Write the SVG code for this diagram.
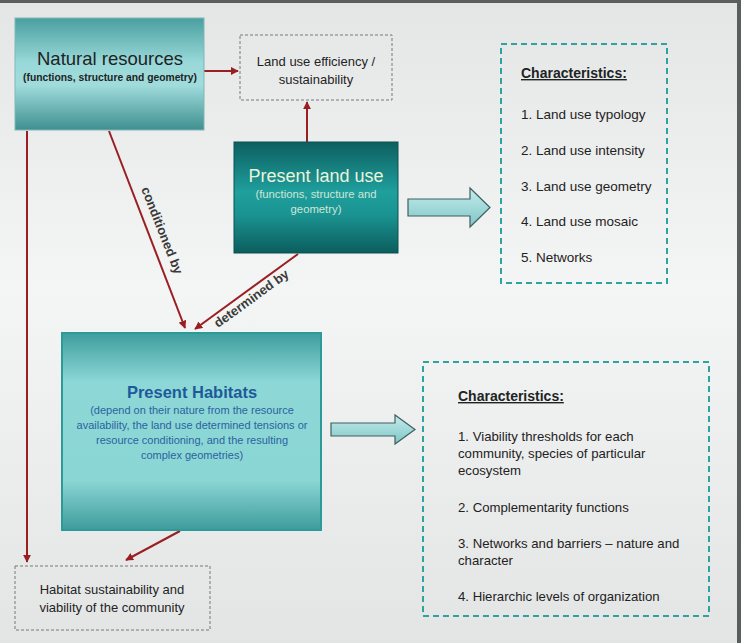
<svg xmlns="http://www.w3.org/2000/svg" width="741" height="643" viewBox="0 0 741 643">
<defs>
<style>
text{font-family:"Liberation Sans",Arial,sans-serif;}
.dk{fill:#1e2424;}
.conn{stroke:#9a1f22;stroke-width:2;fill:none;}
.lbl{font-size:13px;font-weight:bold;fill:#3a3a3a;}
.chr{font-size:13.5px;fill:#1e2222;}
.chr2{font-size:13.2px;fill:#1e2222;}
.dashT{fill:none;stroke:#2fa3a0;stroke-width:2;stroke-dasharray:6,4;}
.dashG{fill:none;stroke:#777;stroke-width:1;stroke-dasharray:3,2;}
.blk{fill:url(#gBlk);stroke:#3f5f5f;stroke-width:1.2;}
</style>
<linearGradient id="gBg" x1="0" y1="0" x2="0" y2="1">
<stop offset="0" stop-color="#e4e6e6"/>
<stop offset="0.45" stop-color="#f4f5f5"/>
<stop offset="1" stop-color="#e3e5e5"/>
</linearGradient>
<linearGradient id="gNR" x1="0" y1="0" x2="0" y2="1">
<stop offset="0" stop-color="#4a9fa0"/>
<stop offset="0.4" stop-color="#9ad9d9"/>
<stop offset="0.6" stop-color="#a0dcdc"/>
<stop offset="1" stop-color="#3f8f90"/>
</linearGradient>
<linearGradient id="gPLU" x1="0" y1="0" x2="0" y2="1">
<stop offset="0" stop-color="#0d5f60"/>
<stop offset="0.45" stop-color="#1f9f9d"/>
<stop offset="0.65" stop-color="#1a9492"/>
<stop offset="1" stop-color="#0c5d5d"/>
</linearGradient>
<linearGradient id="gPH" x1="0" y1="0" x2="0" y2="1">
<stop offset="0" stop-color="#3e9e9e"/>
<stop offset="0.25" stop-color="#8dd8d6"/>
<stop offset="0.75" stop-color="#8ad6d4"/>
<stop offset="1" stop-color="#3e9c9c"/>
</linearGradient>
<linearGradient id="gBlk" x1="0" y1="0" x2="0" y2="1">
<stop offset="0" stop-color="#c5ecec"/>
<stop offset="1" stop-color="#7fc6c6"/>
</linearGradient>
<marker id="ah" viewBox="0 0 10 10" refX="9" refY="5" markerWidth="4" markerHeight="4" orient="auto">
<path d="M0,0 L10,5 L0,10 z" fill="#9a1f22"/>
</marker>
</defs>

<rect x="0" y="0" width="741" height="643" fill="url(#gBg)"/>
<rect x="0" y="0" width="741" height="3" fill="#5a5e5e"/>
<rect x="737" y="0" width="4" height="643" fill="#5a5e5e"/>

<g id="connectors">
<line class="conn" x1="204" y1="71" x2="238" y2="71" marker-end="url(#ah)"/>
<line class="conn" x1="307" y1="142" x2="307" y2="102" marker-end="url(#ah)"/>
<line class="conn" x1="109" y1="131" x2="185" y2="328" marker-end="url(#ah)"/>
<line class="conn" x1="298" y1="254" x2="195" y2="329" marker-end="url(#ah)"/>
<line class="conn" x1="27" y1="131" x2="27" y2="562" marker-end="url(#ah)"/>
<line class="conn" x1="180" y1="531" x2="126" y2="560" marker-end="url(#ah)"/>
<text class="lbl" transform="translate(158,232) rotate(68.5)" text-anchor="middle">conditioned by</text>
<text class="lbl" transform="translate(254,302) rotate(-36)" text-anchor="middle">determined by</text>
<path class="blk" d="M408,199 H470 V188 L490,207.5 L470,227 V216 H408 Z"/>
<path class="blk" d="M331,423 H395 V415 L415,429.5 L395,444 V436 H331 Z"/>
</g>

<g id="natural-resources">
<rect x="15" y="18" width="189" height="112" fill="url(#gNR)" stroke="#7fb7b8" stroke-width="1"/>
<text x="110" y="65" text-anchor="middle" font-size="18.5" class="dk">Natural resources</text>
<text x="110" y="81" text-anchor="middle" font-size="10.3" font-weight="bold" class="dk">(functions, structure and geometry)</text>
</g>

<g id="land-use-efficiency">
<rect x="240" y="35" width="152" height="65" fill="#eef0f0" class="dashG"/>
<text x="316" y="66" text-anchor="middle" font-size="13" class="dk">Land use efficiency /</text>
<text x="316" y="84" text-anchor="middle" font-size="13" class="dk">sustainability</text>
</g>

<g id="present-land-use">
<rect x="234" y="142" width="164" height="111" fill="url(#gPLU)" stroke="#0c5050" stroke-width="1"/>
<text x="316" y="182" text-anchor="middle" font-size="18" fill="#eaf4da">Present land use</text>
<text x="316" y="198" text-anchor="middle" font-size="11.3" fill="#cfe6d6">(functions, structure and</text>
<text x="316" y="213" text-anchor="middle" font-size="11.3" fill="#cfe6d6">geometry)</text>
</g>

<g id="characteristics-land-use">
<rect x="501" y="44" width="166" height="239" class="dashT"/>
<text x="521" y="78" font-size="14" font-weight="bold" class="dk" text-decoration="underline">Characteristics:</text>
<text x="521" y="119" class="chr">1. Land use typology</text>
<text x="521" y="155" class="chr">2. Land use intensity</text>
<text x="521" y="191" class="chr">3. Land use geometry</text>
<text x="521" y="226" class="chr">4. Land use mosaic</text>
<text x="521" y="262" class="chr">5. Networks</text>
</g>

<g id="present-habitats">
<rect x="62" y="333" width="259" height="197" fill="url(#gPH)" stroke="#2b9a98" stroke-width="2"/>
<text x="192" y="398" text-anchor="middle" font-size="16.5" font-weight="bold" fill="#1e5a9a">Present Habitats</text>
<text x="192" y="414" text-anchor="middle" font-size="11" fill="#2b62a0">(depend on their nature from the resource</text>
<text x="192" y="429" text-anchor="middle" font-size="11" fill="#2b62a0">availability, the land use determined tensions or</text>
<text x="192" y="444" text-anchor="middle" font-size="11" fill="#2b62a0">resource conditioning, and the resulting</text>
<text x="192" y="459" text-anchor="middle" font-size="11" fill="#2b62a0">complex geometries)</text>
</g>

<g id="characteristics-habitats">
<rect x="423" y="362" width="286" height="254" class="dashT"/>
<text x="458" y="401" font-size="14" font-weight="bold" class="dk" text-decoration="underline">Characteristics:</text>
<text x="458" y="441" class="chr2">1. Viability thresholds for each</text>
<text x="458" y="458" class="chr2">community, species of particular</text>
<text x="458" y="475" class="chr2">ecosystem</text>
<text x="458" y="512" class="chr2">2. Complementarity functions</text>
<text x="458" y="548" class="chr2">3. Networks and barriers – nature and</text>
<text x="458" y="565" class="chr2">character</text>
<text x="458" y="601" class="chr2">4. Hierarchic levels of organization</text>
</g>

<g id="habitat-sustainability">
<rect x="15" y="566" width="195" height="64" fill="#eceeee" class="dashG"/>
<text x="112" y="594" text-anchor="middle" font-size="13" class="dk">Habitat sustainability and</text>
<text x="112" y="612" text-anchor="middle" font-size="13" class="dk">viability of the community</text>
</g>
</svg>
